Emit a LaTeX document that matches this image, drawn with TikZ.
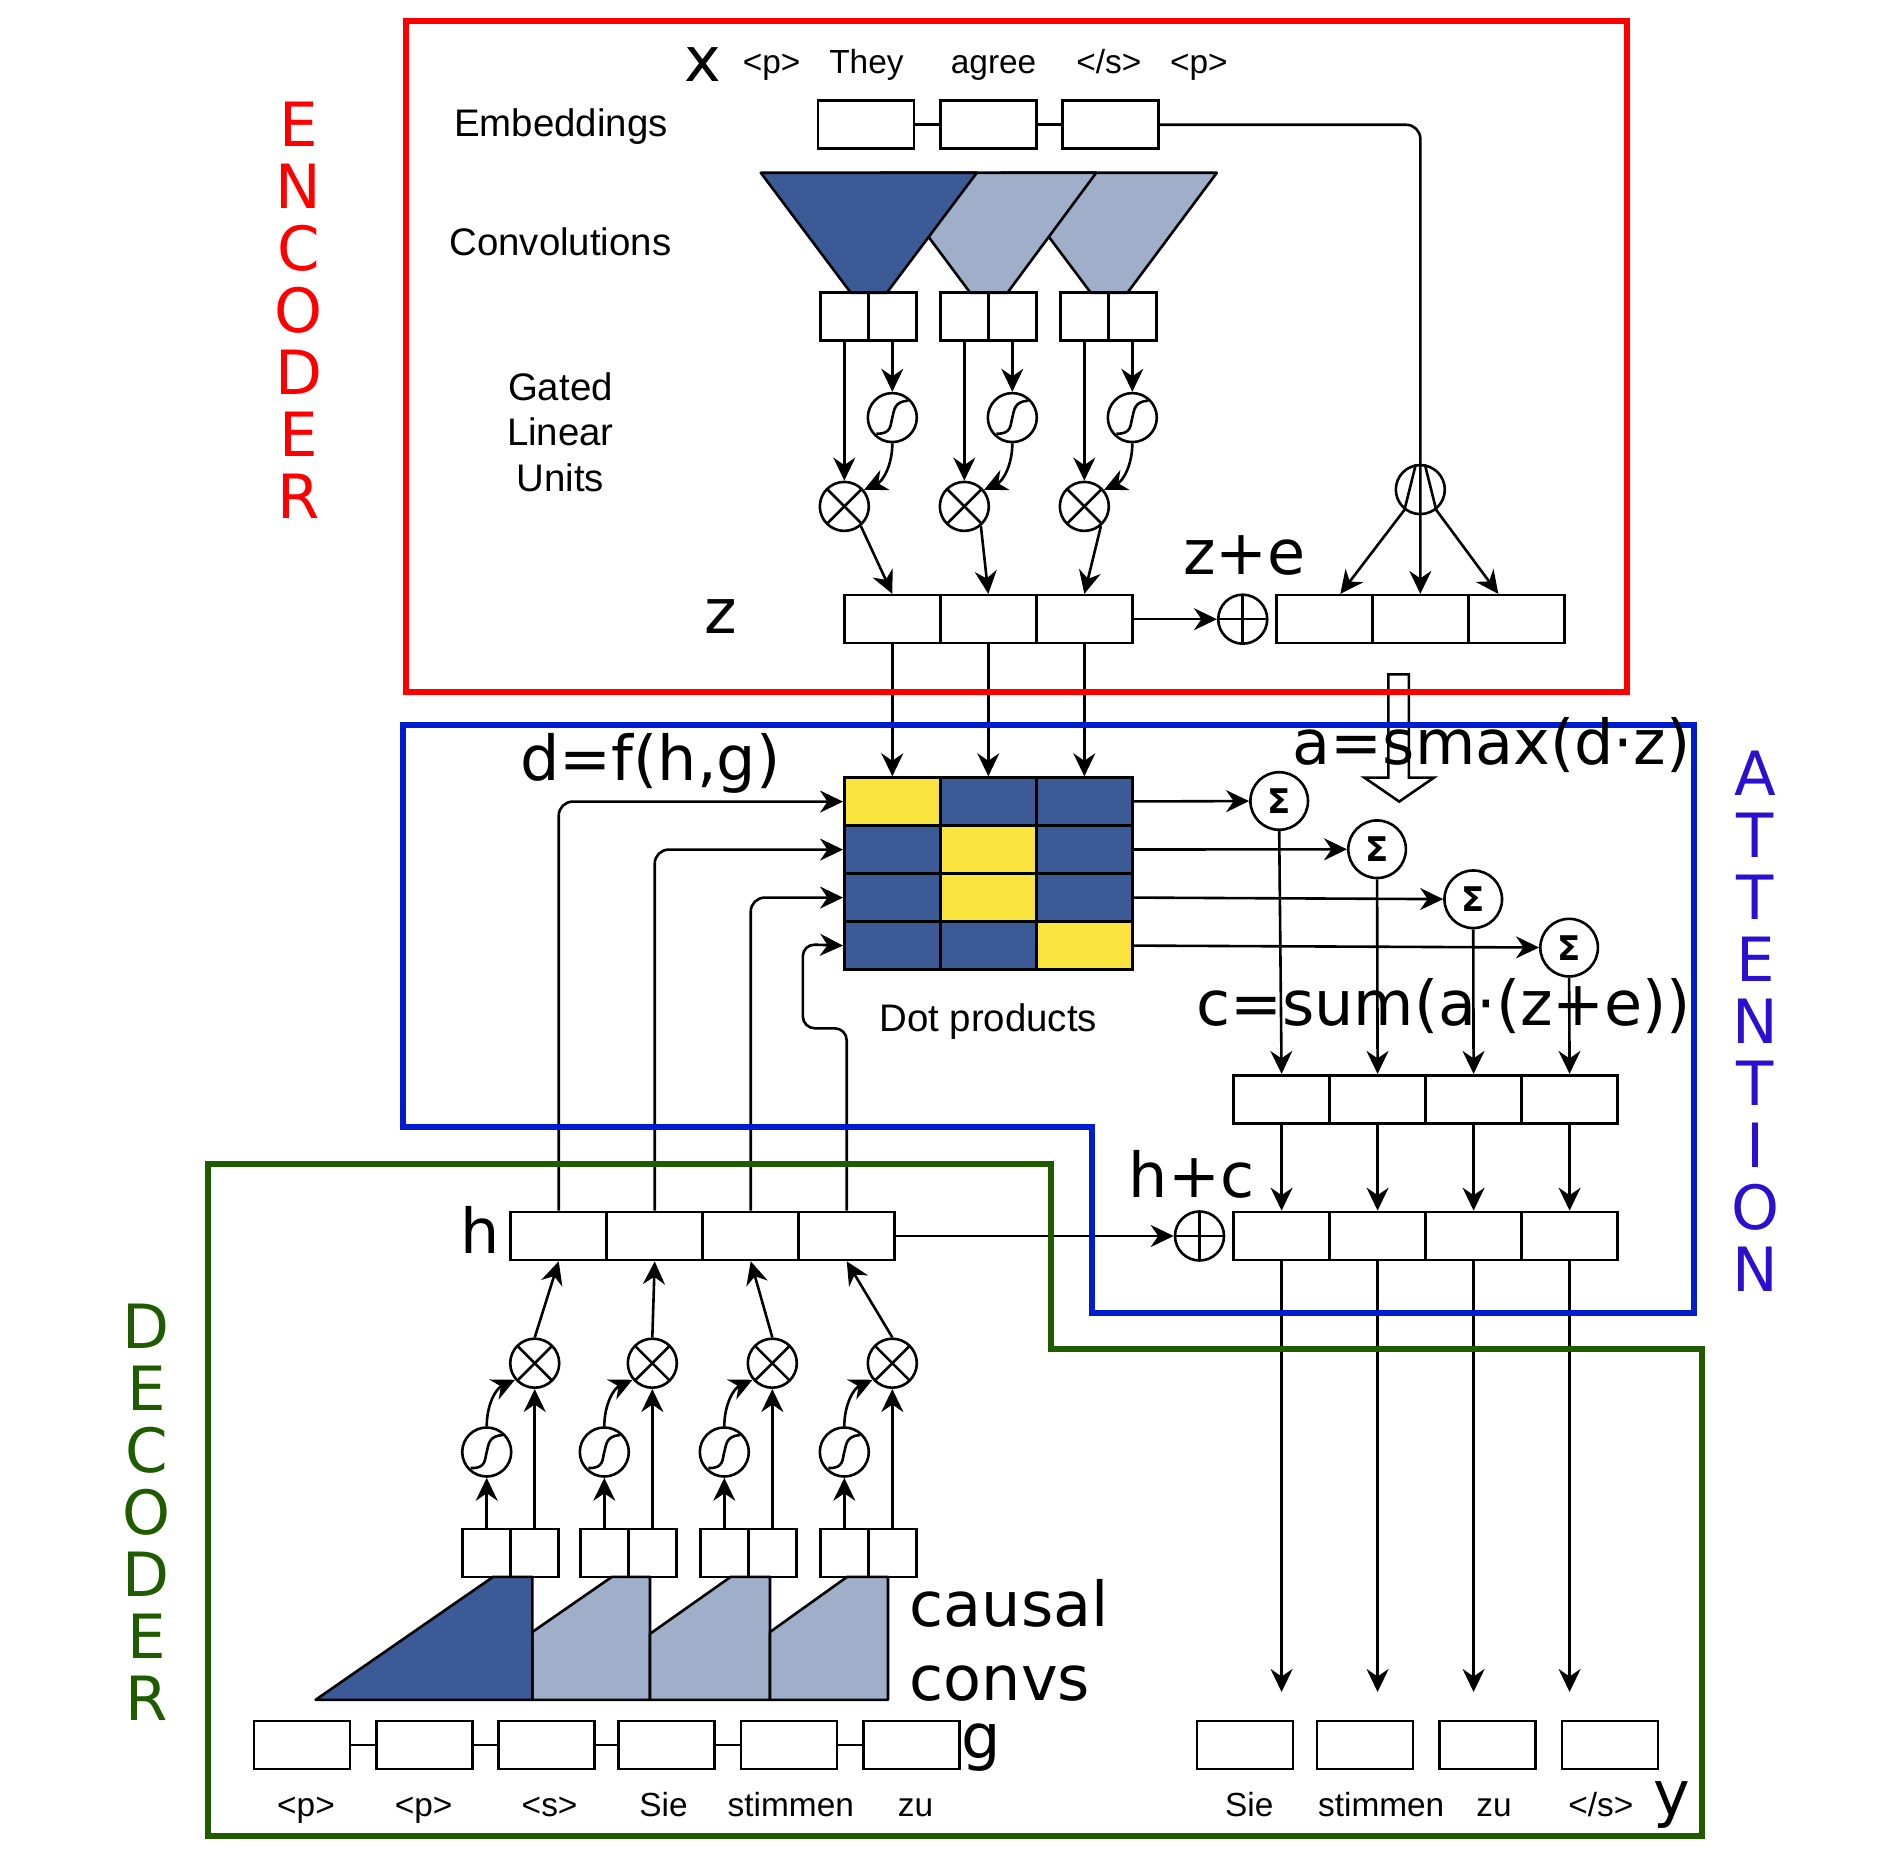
\documentclass[tikz,border=0pt]{standalone}
\usepackage{fontspec}
\setmainfont{Liberation Sans}
\newfontfamily\dejavu{DejaVu Sans}
\usetikzlibrary{arrows.meta}
\definecolor{convdark}{HTML}{3C5A96}
\definecolor{convlight}{HTML}{9FAEC9}
\definecolor{hit}{HTML}{FAE33C}
\definecolor{encred}{HTML}{FF0000}
\definecolor{attblue}{HTML}{001CCF}
\definecolor{atttext}{HTML}{2B10CF}
\definecolor{decgreen}{HTML}{1F5C00}
\tikzset{
    cell/.style={draw,rectangle,minimum width=48pt,minimum height=24pt,inner sep=0pt},
    halfcell/.style={cell,minimum width=24pt},
    dark/.style={cell,fill=convdark},
    yellow/.style={cell,fill=hit},
    unit/.style={draw,circle,minimum size=24.5pt,inner sep=0pt},
    sigmoid/.style={unit,path picture={
        \draw[shift={(path picture bounding box.center)}]
            (-8pt,-8pt) .. controls (0pt,-8.5pt) and (-1pt,-3pt) .. (0pt,0pt)
            .. controls (1pt,4pt) and (1pt,8pt) .. (8pt,8.5pt);}},
    times/.style={unit,path picture={
        \draw (path picture bounding box.north west) -- (path picture bounding box.south east);
        \draw (path picture bounding box.north east) -- (path picture bounding box.south west);}},
    plus/.style={unit,path picture={
        \draw (path picture bounding box.north) -- (path picture bounding box.south);
        \draw (path picture bounding box.west) -- (path picture bounding box.east);}},
    sumnode/.style={draw,circle,minimum size=28.8pt,inner sep=0pt,font=\dejavu\bfseries\fontsize{17}{17}\selectfont},
    word/.style={inner sep=0pt,anchor=base,font=\fontsize{16.7}{20}\selectfont},
    caption/.style={inner sep=0pt,anchor=base,align=center,font=\fontsize{19.2}{22.8}\selectfont},
    term/.style={inner sep=0pt,align=left,font=\dejavu\fontsize{31}{36.6}\selectfont},
    title/.style={inner sep=0pt,align=center,font=\dejavu\fontsize{30.5}{31}\selectfont},
    frame/.style={draw,line width=3pt,miter limit=10},
    conv/.style={draw,line join=round},
}

\begin{document}
\begin{tikzpicture}[x=0.6pt,y=-0.6pt,line width=1.3pt,>={Stealth[length=11.5pt,width=11pt]}]
\useasboundingbox (0,0) rectangle (1567.5,1545.8);

% encoder: convolutions, light ones first
\path[conv,fill=convlight] (834,144) -- (1014,144) -- (939.5,244) -- (909,244) -- cycle;
\path[conv,fill=convlight] (734,144) -- (913.5,144) -- (839.5,244) -- (808.5,244) -- cycle;
\path[conv,fill=convdark] (634,144) -- (814,144) -- (739,244) -- (709,244) -- cycle;

% embeddings
\node[cell] (x1) at (721.6,104) {};
\node[cell] (x2) at (823.6,104) {};
\node[cell] (x3) at (925.6,104) {};
\draw (x1) -- (x2) (x2) -- (x3);

% gated linear units
\foreach \n/\a in {1/703.6,2/803.6,3/903.6} {
    \node[halfcell] (ga\n) at (\a,264) {};
    \node[halfcell] (gb\n) at (\a+40,264) {};
    \node[sigmoid] (gs\n) at (\a+40,348) {};
    \node[times] (gt\n) at (\a,422) {};
    \draw[->] (ga\n) -- (gt\n);
    \draw[->] (gb\n) -- (gs\n);
    \draw[->] (gs\n.south) to[out=-90,in=25] (gt\n.40);
}
\foreach \n/\a in {1/743.6,2/823.6,3/903.6} {
    \node[cell] (z\n) at (\a,516) {};
    \draw[->] (gt\n.-50) -- (z\n.north);
}
\foreach \n/\a in {1/1103.6,2/1183.6,3/1263.6} {
    \node[cell] (e\n) at (\a,516) {};
}
\node[plus] (zplus) at (1035.6,516) {};
\draw[->] (z3.east) -- (zplus);

% embeddings go round to z+e
\node[unit] (fan) at (1183.6,408) {};
\draw[->,rounded corners=7pt] (x3.east) -| (e2.north);
\draw[->] (fan.100) -- (fan.232) -- ([xshift=8pt]e1.north);
\draw[->] (fan.80) -- (fan.-52) -- ([xshift=-9pt]e3.north);

% attention matrix
\node[yellow] (m11) at (743.6,668) {};
\node[dark] (m21) at (823.6,668) {};
\node[dark] (m31) at (903.6,668) {};
\node[dark] (m12) at (743.6,708) {};
\node[yellow] (m22) at (823.6,708) {};
\node[dark] (m32) at (903.6,708) {};
\node[dark] (m13) at (743.6,748) {};
\node[yellow] (m23) at (823.6,748) {};
\node[dark] (m33) at (903.6,748) {};
\node[dark] (m14) at (743.6,788) {};
\node[dark] (m24) at (823.6,788) {};
\node[yellow] (m34) at (903.6,788) {};
\draw[->] (z1) -- (m11);
\draw[->] (z2) -- (m21);
\draw[->] (z3) -- (m31);

% softmax and context vectors
\node[sumnode] (sum1) at (1066,667.5) {Σ};
\node[sumnode] (sum2) at (1147.6,707.7) {Σ};
\node[sumnode] (sum3) at (1227.7,749.4) {Σ};
\node[sumnode] (sum4) at (1307.6,789.7) {Σ};
\draw[->] (m31) -- (sum1);
\draw[->] (m32) -- (sum2);
\draw[->] (m33.east) -- (sum3);
\draw[->] (m34.east) -- (sum4);
\foreach \n/\a in {1/1068,2/1148,3/1228,4/1308} {
    \node[cell] (c\n) at (\a,916) {};
    \node[cell] (d\n) at (\a,1030) {};
    \coordinate (out\n) at (\a,1410);
    \draw[->] (sum\n.south) -- (c\n.north);
    \draw[->] (c\n) -- (d\n);
    \draw[->] (d\n) -- (out\n);
}

% decoder
\foreach \n/\a in {1/465.6,2/545.6,3/625.6,4/705.6} {
    \node[cell] (h\n) at (\a,1030) {};
}
\node[plus] (hplus) at (999.6,1030) {};
\draw[->] (h4.east) -- (hplus);
\draw[->,rounded corners=7pt] (h1.north) |- (m11.west);
\draw[->,rounded corners=7pt] (h2.north) |- (m12.west);
\draw[->,rounded corners=7pt] (h3.north) |- (m13.west);
\draw[->,rounded corners=6pt] (h4.north) -- ++(0,-152) -- ++(-36.6,0) -- ++(0,-70) -- (m14.west);

% causal convs
\path[conv,fill=convlight] (443.6,1360) -- (510,1314) -- (541.7,1314) -- (541.7,1416.5) -- (443.6,1416.5) -- cycle;
\path[conv,fill=convlight] (541.7,1361.5) -- (609,1314) -- (641.7,1314) -- (641.7,1416.5) -- (541.7,1416.5) -- cycle;
\path[conv,fill=convlight] (641.7,1360) -- (706,1314) -- (740,1314) -- (740,1416.5) -- (641.7,1416.5) -- cycle;
\path[conv,fill=convdark] (263,1416.5) -- (411,1314) -- (443.6,1314) -- (443.6,1416.5) -- cycle;

\foreach \n/\a in {1/405.6,2/503.6,3/603.6,4/703.6} {
    \node[halfcell] (ca\n) at (\a,1294) {};
    \node[halfcell] (cb\n) at (\a+40,1294) {};
    \node[sigmoid] (cs\n) at (\a,1210) {};
    \node[times] (ct\n) at (\a+40,1136) {};
    \draw[->] (ca\n) -- (cs\n);
    \draw[->] (cb\n) -- (ct\n);
    \draw[->] (cs\n.north) to[out=90,in=205] (ct\n.220);
    \draw[->] (ct\n.north) -- (h\n.south);
}

% embeddings of g and y
\node[cell] (g1) at (251.6,1454) {};
\node[cell] (g2) at (353.6,1454) {};
\node[cell] (g3) at (455.6,1454) {};
\node[cell] (g4) at (555.6,1454) {};
\node[cell] (g5) at (657.6,1454) {};
\node[cell] (g6) at (759.6,1454) {};
\draw (g1) -- (g2) (g2) -- (g3) (g3) -- (g4) (g4) -- (g5) (g5) -- (g6);
\node[cell] (y1) at (1037.6,1454) {};
\node[cell] (y2) at (1137.6,1454) {};
\node[cell] (y3) at (1239.6,1454) {};
\node[cell] (y4) at (1341.6,1454) {};

% big arrow
\draw (1157,648) -- (1157,562) -- (1174,562) -- (1174,648) -- (1195,648) -- (1166,668) -- (1137,648) -- cycle;

% frames
\path[frame,encred] (338,17.5) rectangle (1356,577);
\path[frame,attblue] (336,604) -- (1412,604) -- (1412,1094) -- (910,1094) -- (910,939) -- (336,939) -- cycle;
\path[frame,decgreen] (173,970) -- (876,970) -- (876,1124) -- (1418,1124) -- (1418,1530) -- (173,1530) -- cycle;

% labels
\node[title,text=encred] (enctitle) at (249,258.5) {E\\N\\C\\O\\D\\E\\R};
\node[title,text=atttext] (atttitle) at (1463,851) {A\\T\\T\\E\\N\\T\\I\\O\\N};
\node[title,text=decgreen] (dectitle) at (122,1260.5) {D\\E\\C\\O\\D\\E\\R};

\node[word] (w1) at (643,61.5) {<p>};
\node[word] (w2) at (722,61.5) {They};
\node[word] (w3) at (828,61.5) {agree};
\node[word] (w4) at (924,61.5) {</s>};
\node[word] (w5) at (999,61.5) {<p>};
\node[word] (w6) at (255,1514) {<p>};
\node[word] (w7) at (353,1514) {<p>};
\node[word] (w8) at (458,1514) {<s>};
\node[word] (w9) at (553,1514) {Sie};
\node[word] (w10) at (659,1514) {stimmen};
\node[word] (w11) at (763,1514) {zu};
\node[word] (w12) at (1041,1514) {Sie};
\node[word] (w13) at (1151,1514) {stimmen};
\node[word] (w14) at (1245,1514) {zu};
\node[word] (w15) at (1334,1514) {</s>};

\node[caption] (embed) at (467.5,113.5) {Embeddings};
\node[caption] (convol) at (467,213) {Convolutions};
\node[caption,anchor=center] (glu) at (467,360) {Gated\\Linear\\Units};
\node[caption] (dots) at (823.5,859.5) {Dot products};

\node[term] (tx) at (586,54) {x};
\node[term] (tz) at (601,514) {z};
\node[term] (tze) at (1037,463) {z+e};
\node[term] (td) at (542,636) {d=f(h,g)};
\node[term] (ta) at (1243,621) {a=smax(d·z)};
\node[term] (tc) at (1203,838) {c=sum(a·(z+e))};
\node[term] (thc) at (993,979) {h+c};
\node[term] (th) at (400,1025) {h};
\node[term] (tg) at (818,1456) {g};
\node[term] (ty) at (1393,1504) {y};
\node[term,anchor=west] (tcausal) at (757,1367) {causal\\convs};
\end{tikzpicture}
\end{document}
